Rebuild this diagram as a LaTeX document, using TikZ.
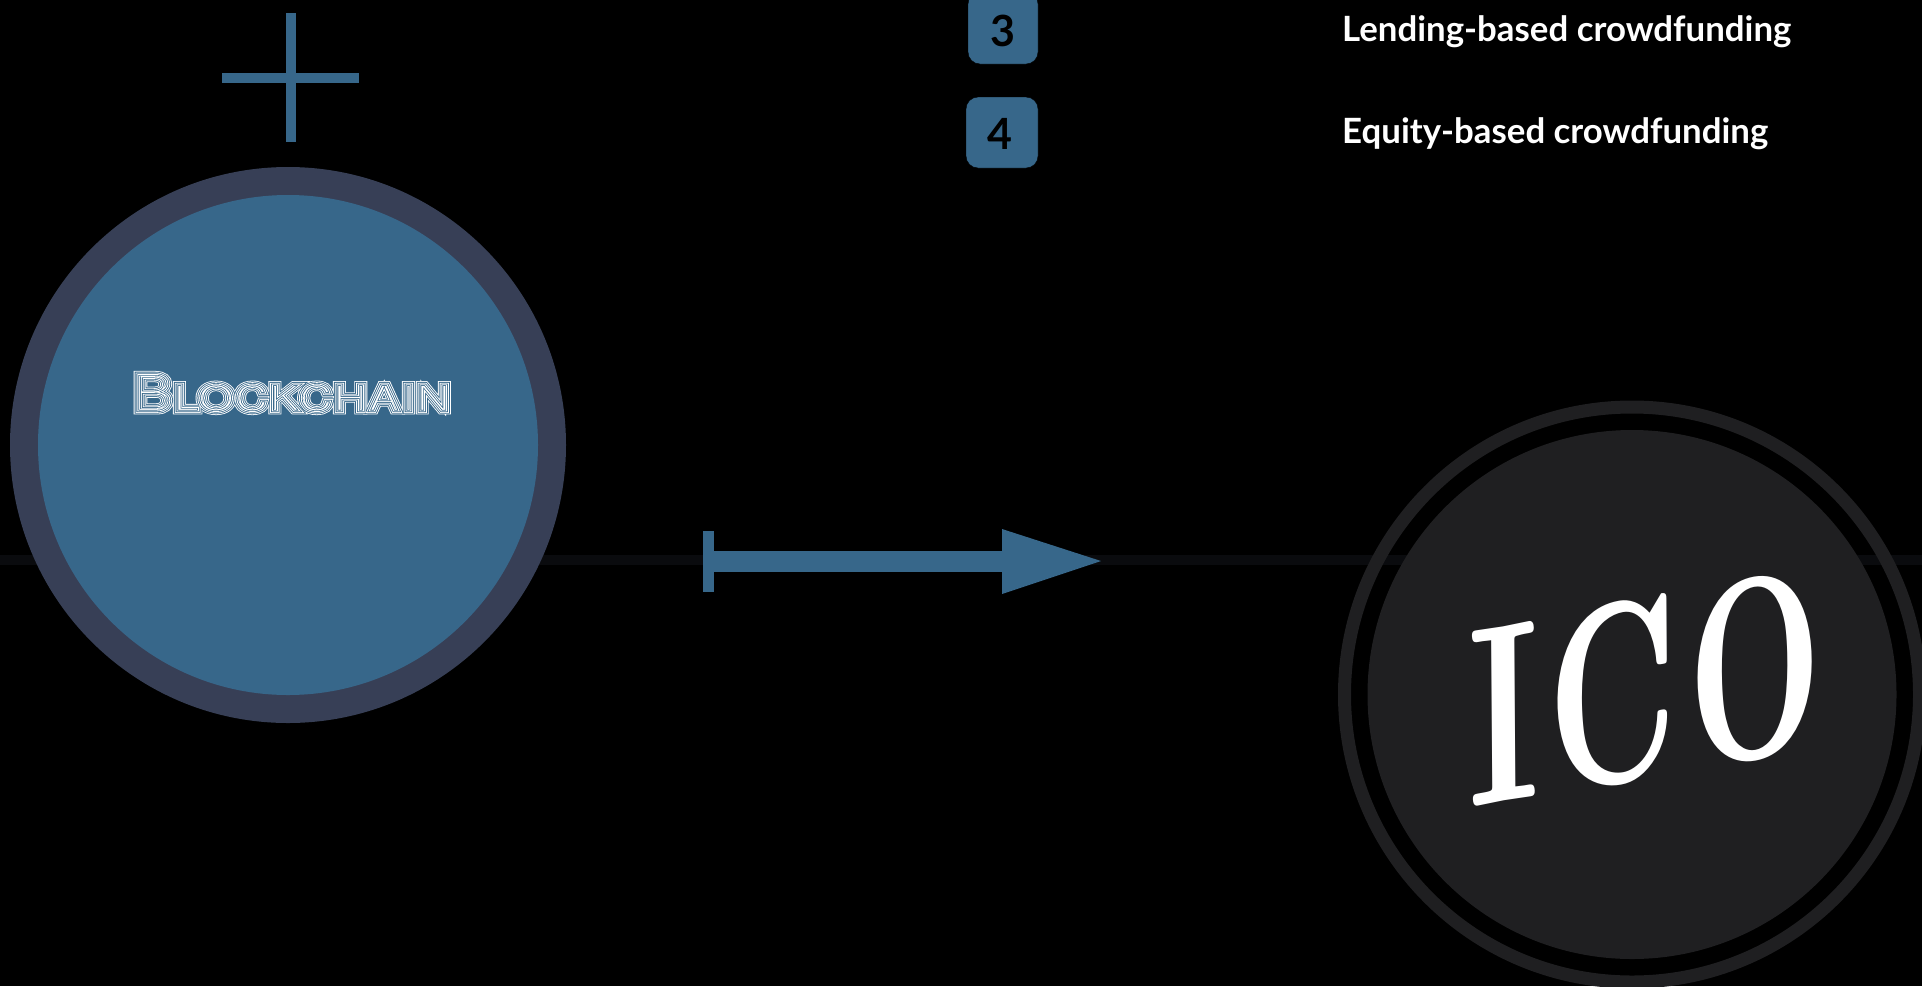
\documentclass[tikz,border=0pt]{standalone}
\usepackage{fontspec}
\usepackage{graphicx}
\setmainfont{Lato}
\newfontfamily\labelfont{Lato}
\newfontfamily\bcfont[Letters=SmallCaps]{TeX Gyre Heros}
\newfontfamily\icofont{lmroman10-bolditalic.otf}
\definecolor{mblue}{HTML}{37678A}
\definecolor{mring}{HTML}{373F56}
\definecolor{mdark}{HTML}{1F1F21}
\definecolor{mfaint}{HTML}{0A0B0E}
\newcommand\trmode[1]{\special{pdf:literal direct #1 Tr}}
\newcommand\strokew[1]{\special{pdf:literal direct #1 w}}
\newcommand\bclayer[2]{\node[inner sep=0pt] (bc#2) at (bctext) {\scalebox{1.18}[1]{\color{#1}\trmode{1}\strokew{#2}\fontsize{50}{50}\bcfont Blockchain\trmode{0}}};}
\tikzset{
  badge/.style={fill=mblue, rounded corners=12pt},
  badgenum/.style={font=\labelfont\bfseries\fontsize{43}{43}\selectfont, text=black, inner sep=0pt},
  itemtext/.style={font=\labelfont\bfseries\fontsize{34.8}{34.8}\selectfont, text=white, anchor=base west, inner sep=0pt},
}
\begin{document}
\begin{tikzpicture}[x=1pt,y=-1pt]
\useasboundingbox (0,0) rectangle (1922,986);
\fill[black] (0,0) rectangle (1922,986);
% faint horizontal guide band
\coordinate (gl) at (0,560);
\coordinate (gr) at (1922,560);
\draw[mfaint, line width=10pt] (gl) -- (gr);
% plus sign
\fill[mblue] (286,13) rectangle (296,142);
\fill[mblue] (222,73) rectangle (359,83);
% Blockchain circle
\node[circle, fill=mring, minimum size=556pt, inner sep=0pt] (bcout) at (288,445) {};
\node[circle, fill=mblue, minimum size=500pt, inner sep=0pt] (bcin) at (288,445) {};
\coordinate (bctext) at (292,393);
\bclayer{white}{7}
\bclayer{mblue}{5.4}
\bclayer{white}{3.8}
\bclayer{mblue}{2.2}
\bclayer{white}{0.8}
% arrow
\coordinate (astart) at (714,561.5);
\coordinate (abase) at (1002,561.5);
\coordinate (atip) at (1101,561);
\fill[mblue] (703,531) rectangle (714,592);
\draw[mblue, line width=21pt] (astart) -- (abase);
\fill[mblue] (1002,529) -- (atip) -- (1002,594) -- cycle;
% ICO circle
\node[circle, draw=mdark, line width=13pt, minimum size=575pt, inner sep=0pt] (icoring) at (1632,694.5) {};
\node[circle, fill=mdark, minimum size=529pt, inner sep=0pt] (icodisc) at (1632,694.5) {};
\node[rotate=10, text=white, inner sep=0pt] (ico) at (1631,691) {\scalebox{0.68}[1]{\icofont\fontsize{252}{252}\selectfont ICO}};
% badges
\draw[badge] (968,-8) rectangle (1038,64);
\node[badgenum] (n3) at (1003,30.5) {3};
\draw[badge] (966,97) rectangle (1038,168);
\node[badgenum] (n4) at (1000,133.5) {4};
\node[itemtext] (t3) at (1342,41.5) {Lending-based crowdfunding};
\node[itemtext] (t4) at (1342,143.3) {Equity-based crowdfunding};
\end{tikzpicture}
\end{document}
